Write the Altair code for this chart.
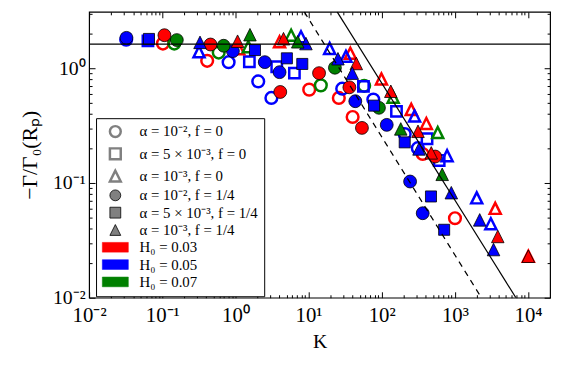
import altair as alt
import pandas as pd

# ---------------- data ----------------
# H0 = 0.03 (red)
K_r_oc = [0.102, 0.411, 10.2, 25.9, 40.0, 363, 1002]
G_r_oc = [1.64, 1.16, 0.651, 0.551, 0.376, 0.179, 0.0493]
K_r_fc = [0.107, 0.456, 4.10, 13.9, 36.1, 53.6, 538]
G_r_fc = [1.94, 1.61, 0.621, 0.906, 0.682, 0.302, 0.170]
K_r_ot = [1.11, 4.01, 37.2, 99.1, 253, 407, 3556, 10090]
G_r_ot = [1.48, 1.70, 1.35, 0.807, 0.438, 0.330, 0.0601, 0.0230]
K_r_ft = [1.07, 4.54, 44.9, 133, 313, 475, 3855, 10090]
G_r_ft = [1.72, 1.81, 1.10, 0.630, 0.282, 0.183, 0.0342, 0.0230]

# H0 = 0.05 (blue)
K_b_oc = [0.0321, 0.807, 2.05, 3.10, 28.8, 76.7, 206, 311]
G_b_oc = [1.77, 1.13, 0.768, 0.551, 0.664, 0.534, 0.267, 0.201]
K_b_fc = [0.0324, 0.923, 2.52, 4.01, 43.5, 117, 244, 363]
G_b_fc = [1.84, 1.41, 1.13, 0.924, 0.516, 0.321, 0.103, 0.0545]
K_b_os = [0.0637, 1.55, 3.67, 6.40, 56.2, 159, 416, 610]
G_b_os = [1.73, 1.14, 1.03, 0.906, 0.695, 0.421, 0.243, 0.157]
K_b_fs = [0.0658, 1.85, 5.05, 8.20, 78.5, 206, 471, 713]
G_b_fs = [1.80, 1.44, 1.22, 1.09, 0.472, 0.226, 0.0763, 0.0391]
K_b_ot = [0.318, 7.87, 19.4, 32.4, 281, 782, 1987, 3097]
G_b_ot = [1.39, 1.88, 1.49, 1.27, 0.383, 0.173, 0.0742, 0.0441]
K_b_ft = [0.328, 9.20, 25.2, 39.6, 323, 893, 2183, 3373]
G_b_ft = [1.68, 1.64, 1.21, 0.906, 0.198, 0.0823, 0.0477, 0.0263]

# H0 = 0.07 (green)
K_g_oc = [0.146, 0.591, 14.7, 57.5]
G_g_oc = [1.64, 1.37, 0.709, 0.703]
K_g_fc = [0.158, 0.690, 22.9, 91.6]
G_g_fc = [1.76, 1.57, 1.01, 0.452]
K_g_ot = [1.50, 5.77, 143, 582]
G_g_ot = [1.54, 1.94, 0.559, 0.275]
K_g_ft = [1.58, 7.11, 182, 670]
G_g_ft = [1.96, 1.70, 0.296, 0.119]

# reference lines
K_solid = [24.6, 6823]
G_solid = [3.1, 0.01]
K_dashed = [8.73, 2301]
G_dashed = [3.1, 0.01]
K_hline = [0.01, 20000]
G_hline = [1.62, 1.62]

legend_labels = [
    "α = 10⁻², f = 0",
    "α = 5 × 10⁻³, f = 0",
    "α = 10⁻³, f = 0",
    "α = 10⁻², f = 1/4",
    "α = 5 × 10⁻³, f = 1/4",
    "α = 10⁻³, f = 1/4",
    "H₀ = 0.03",
    "H₀ = 0.05",
    "H₀ = 0.07",
]

x_major = [0.01, 0.1, 1, 10, 100, 1000, 10000]
x_minor = [0.02, 0.03, 0.04, 0.05, 0.06, 0.07, 0.08, 0.09,
           0.2, 0.3, 0.4, 0.5, 0.6, 0.7, 0.8, 0.9,
           2, 3, 4, 5, 6, 7, 8, 9,
           20, 30, 40, 50, 60, 70, 80, 90,
           200, 300, 400, 500, 600, 700, 800, 900,
           2000, 3000, 4000, 5000, 6000, 7000, 8000, 9000]
y_major = [0.01, 0.1, 1]
y_minor = [0.02, 0.03, 0.04, 0.05, 0.06, 0.07, 0.08, 0.09,
           0.2, 0.3, 0.4, 0.5, 0.6, 0.7, 0.8, 0.9, 2, 3]
tick_text = "['10⁻²','10⁻¹','10⁰','10¹','10²','10³','10⁴'][round(log(datum.value)/LN10)+2]"

# ---------------- styling ----------------
RED, BLUE, GREEN, GRAY = "#ff0000", "#0000ff", "#008000", "#808080"
TRI = "M0,-1L-1,1L1,1Z"
RECT = "M-2.4,-0.9H2.4V0.9H-2.4Z"
FONT = "Liberation Serif"
W, H = 466, 289

series = [
    # (K, G, colour, marker, filled)
    (K_r_oc, G_r_oc, RED, "circle", False),
    (K_b_oc, G_b_oc, BLUE, "circle", False),
    (K_g_oc, G_g_oc, GREEN, "circle", False),
    (K_b_os, G_b_os, BLUE, "square", False),
    (K_r_ot, G_r_ot, RED, "triangle", False),
    (K_b_ot, G_b_ot, BLUE, "triangle", False),
    (K_g_ot, G_g_ot, GREEN, "triangle", False),
    (K_r_fc, G_r_fc, RED, "circle", True),
    (K_b_fc, G_b_fc, BLUE, "circle", True),
    (K_g_fc, G_g_fc, GREEN, "circle", True),
    (K_b_fs, G_b_fs, BLUE, "square", True),
    (K_r_ft, G_r_ft, RED, "triangle", True),
    (K_b_ft, G_b_ft, BLUE, "triangle", True),
    (K_g_ft, G_g_ft, GREEN, "triangle", True),
]
rows = []
for Ks, Gs, col, mk, fl in series:
    for k, g in zip(Ks, Gs):
        rows.append({"K": k, "G": g, "color": col, "marker": mk, "fill": "full" if fl else "open"})
df = pd.DataFrame(rows)

xs = alt.Scale(type="log", domain=[0.01, 20000])
ys = alt.Scale(type="log", domain=[0.01, 3.1])


def lab_x():
    return alt.Axis(orient="bottom", values=x_major, labelExpr=tick_text, ticks=False, domain=False,
                    grid=False, title="K", labelFont=FONT, labelFontSize=21, labelColor="black",
                    labelPadding=7, labelFlush=False, labelOverlap=False, titleFont=FONT,
                    titleFontSize=20, titleFontWeight="normal", titleColor="black", titlePadding=6)


def lab_y():
    return alt.Axis(orient="left", values=y_major, labelExpr=tick_text, ticks=False, domain=False,
                    grid=False, title="−Γ/Γ₀(Rₚ)", labelFont=FONT, labelFontSize=20, labelColor="black",
                    labelPadding=4, labelFlush=False, labelOverlap=False, titleFont=FONT,
                    titleFontSize=22, titleFontWeight="normal", titleColor="black", titlePadding=11)


def tick_x(orient, vals, size):
    return alt.Axis(orient=orient, offset=-H, values=vals, labels=False, domain=False, grid=False,
                    ticks=True, tickSize=size, tickColor="black", tickWidth=1, title=None)


def tick_y(orient, vals, size):
    return alt.Axis(orient=orient, offset=-W, values=vals, labels=False, domain=False, grid=False,
                    ticks=True, tickSize=size, tickColor="black", tickWidth=1, title=None)


sizes = {("circle", False): 140, ("circle", True): 169,
         ("square", False): 110, ("square", True): 125,
         ("triangle", False): 125, ("triangle", True): 160}
shapes = {"circle": "circle", "square": "square", "triangle": TRI}


def pts(mk, fl, xaxis=None, yaxis=None):
    sub = df[(df.marker == mk) & (df.fill == ("full" if fl else "open"))]
    if fl:
        m = alt.Chart(sub).mark_point(filled=True, shape=shapes[mk], size=sizes[(mk, fl)],
                                      stroke="black", strokeWidth=0.8, opacity=1)
    else:
        m = alt.Chart(sub).mark_point(filled=False, shape=shapes[mk], size=sizes[(mk, fl)],
                                      strokeWidth=2.5, opacity=1)
    return m.encode(
        x=alt.X("K:Q", scale=xs, axis=xaxis),
        y=alt.Y("G:Q", scale=ys, axis=yaxis),
        color=alt.Color("color:N", scale=None),
    )


layers = []
layers.append(pts("circle", False, lab_x(), lab_y()))
layers.append(pts("square", False, tick_x("top", x_major, 6), tick_y("right", y_major, 6)))
layers.append(pts("triangle", False, tick_x("top", x_minor, 3), tick_y("right", y_minor, 3)))
layers.append(pts("circle", True, tick_x("bottom", x_major, 6), tick_y("left", y_major, 6)))
layers.append(pts("square", True, tick_x("bottom", x_minor, 3), tick_y("left", y_minor, 3)))
layers.append(pts("triangle", True))

# legend (hidden points, clipped out of the view; only the legend shows)
leg_df = pd.DataFrame({"key": legend_labels, "K": [1e-6] * 9, "G": [1.0] * 9})
leg = alt.Legend(orient="none", legendX=7, legendY=107.5, title=None, strokeColor="black",
                 fillColor="white", cornerRadius=0, padding=6, rowPadding=1.5, symbolSize=120,
                 symbolOffset=6, labelOffset=17, labelFont=FONT, labelFontSize=15,
                 labelColor="black", labelLimit=300)
layers.append(
    alt.Chart(leg_df).mark_point(opacity=1, clip=True).encode(
        x=alt.X("K:Q", scale=xs, axis=None),
        y=alt.Y("G:Q", scale=ys, axis=None),
        shape=alt.Shape("key:N", legend=leg, scale=alt.Scale(
            domain=legend_labels, range=["circle", "square", TRI, "circle", "square", TRI, RECT, RECT, RECT])),
        fill=alt.Fill("key:N", legend=leg, scale=alt.Scale(
            domain=legend_labels, range=["transparent"] * 3 + [GRAY] * 3 + [RED, BLUE, GREEN])),
        stroke=alt.Stroke("key:N", legend=leg, scale=alt.Scale(
            domain=legend_labels, range=[GRAY] * 3 + ["black"] * 3 + [RED, BLUE, GREEN])),
        strokeWidth=alt.StrokeWidth("key:N", legend=leg, scale=alt.Scale(
            type="ordinal", domain=legend_labels, range=[2.5] * 3 + [0.8] * 3 + [0.5] * 3)),
    )
)

# reference lines
def line(Ks, Gs, dash=None):
    d = pd.DataFrame({"K": Ks, "G": Gs})
    if dash:
        m = alt.Chart(d).mark_line(color="black", strokeWidth=1.2, clip=True, strokeDash=dash)
    else:
        m = alt.Chart(d).mark_line(color="black", strokeWidth=1.2, clip=True)
    return m.encode(x=alt.X("K:Q", scale=xs, axis=None), y=alt.Y("G:Q", scale=ys, axis=None))


layers.append(line(K_hline, G_hline))
layers.append(line(K_solid, G_solid))
layers.append(line(K_dashed, G_dashed, [6, 5]))

chart = (
    alt.layer(*layers)
    .resolve_axis(x="independent", y="independent")
    .properties(width=W, height=H, autosize=alt.AutoSizeParams(type="none"),
                padding={"left": 82, "top": 2, "right": 8, "bottom": 56})
    .configure_view(stroke="black", strokeWidth=1.2)
    .configure_axis(grid=False)
)

chart.save("out.html", embed_options={"renderer": "svg", "actions": False})
